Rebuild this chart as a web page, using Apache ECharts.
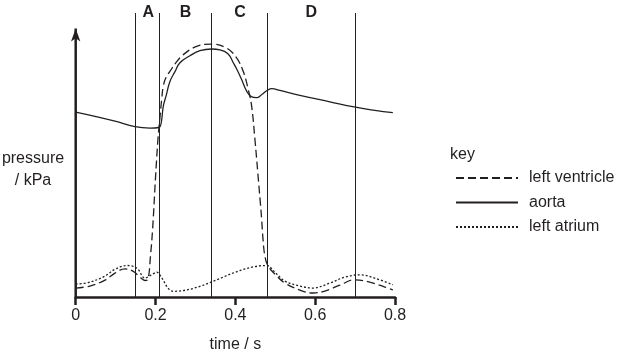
<!DOCTYPE html>
<html><head><meta charset="utf-8">
<script src="https://cdn.jsdelivr.net/npm/echarts@6/dist/echarts.min.js"></script>
<style>html,body{margin:0;padding:0;background:#fff}#c{width:621px;height:358px}</style>
</head><body><div id="c"></div>
<script>
// time (s), pressure (arbitrary kPa scale)
const aorta = [[0,14.33],[0.0483,14.0],[0.0984,13.62],[0.1485,13.19],[0.1861,13.08],[0.2086,13.13],[0.2140,13.45],[0.2194,14.77],[0.2261,15.54],[0.2361,16.69],[0.2487,17.46],[0.2612,18.15],[0.2862,18.69],[0.3113,19.08],[0.3406,19.21],[0.3614,19.15],[0.3814,18.85],[0.3947,18.15],[0.4040,17.62],[0.4157,16.85],[0.4283,15.95],[0.4390,15.54],[0.4533,15.44],[0.4666,15.69],[0.4816,16.04],[0.4916,16.14],[0.5116,16.0],[0.5617,15.62],[0.6369,15.12],[0.6977,14.72],[0.7495,14.46],[0.7946,14.28]];
const ventricle = [[0,0.69],[0.0358,0.85],[0.0734,1.31],[0.0984,1.85],[0.1235,2.18],[0.1435,2.0],[0.1610,1.54],[0.1735,1.28],[0.1811,1.38],[0.1873,3.15],[0.1928,5.31],[0.1998,9.15],[0.2061,12.23],[0.2111,13.92],[0.2154,15.31],[0.2194,16.33],[0.2261,17.0],[0.2361,17.48],[0.2512,18.15],[0.2695,18.77],[0.3030,19.41],[0.3406,19.59],[0.3782,19.28],[0.4032,18.52],[0.4197,17.48],[0.4323,16.08],[0.4408,14.79],[0.4490,12.23],[0.4565,9.54],[0.4628,7.23],[0.4658,6.08],[0.4691,4.54],[0.4741,3.15],[0.4816,2.42],[0.4991,1.77],[0.5241,1.08],[0.5617,0.54],[0.5943,0.31],[0.6244,0.46],[0.6619,0.92],[0.6995,1.33],[0.7370,1.15],[0.7746,0.77],[0.7946,0.56]];
const atrium = [[0,1.0],[0.0358,1.15],[0.0734,1.62],[0.0984,2.15],[0.1285,2.44],[0.1535,2.23],[0.1735,1.46],[0.1886,1.69],[0.2029,1.92],[0.2161,1.46],[0.2312,0.69],[0.2444,0.44],[0.4783,2.44],[0.4991,1.92],[0.5241,1.23],[0.5617,0.85],[0.5943,0.69],[0.6369,1.08],[0.6745,1.54],[0.7120,1.72],[0.7495,1.46],[0.7946,0.95]];
const boundaries = [0.155, 0.209, 0.341, 0.482, 0.698];
const phaseLabels = ['A','B','C','D'];
const xTicks = [0, 0.2, 0.4, 0.6, 0.8];
const yTop = 22;
const yAxisEnd = 20.8;

const ink = '#231f20';
const font = '"Liberation Sans", Arial, sans-serif';
const chart = echarts.init(document.getElementById('c'));
const phasePts = phaseLabels.map((l,i)=>({value:[(boundaries[i]+boundaries[i+1])/2, yTop], label:{formatter:l}}));
chart.setOption({
  animation:false,
  textStyle:{fontFamily:font},
  grid:{left:75.7, right:226, top:13, bottom:59},
  xAxis:{type:'value', min:0, max:0.8, interval:0.2,
    axisLine:{lineStyle:{color:ink,width:2.5}},
    axisTick:{show:true,length:8,lineStyle:{color:ink,width:2.5}},
    axisLabel:{margin:11,fontSize:16,color:ink,fontFamily:font,formatter:v=>xTicks.includes(+v.toFixed(1))?String(+v.toFixed(1)):''},
    splitLine:{show:false},
    name:'time / s', nameLocation:'middle', nameGap:40,
    nameTextStyle:{fontSize:16,color:ink,fontFamily:font}},
  yAxis:{type:'value', min:0, max:yTop, axisLine:{show:false}, axisTick:{show:false}, axisLabel:{show:false}, splitLine:{show:false}},
  legend:{orient:'vertical', left:450, top:165, itemWidth:62, itemHeight:16, itemGap:8.5,
    data:['left ventricle','aorta','left atrium'],
    itemStyle:{opacity:0},
    textStyle:{fontSize:16,color:ink,fontFamily:font,padding:[0,0,0,6]}},
  graphic:[
    {type:'text', left:450, top:147, style:{text:'key', font:'16px '+font, fill:ink}},
    {type:'text', x:33, y:159, style:{text:'pressure', font:'16px '+font, fill:ink, textAlign:'center', textVerticalAlign:'middle'}},
    {type:'text', x:33, y:181, style:{text:'/ kPa', font:'16px '+font, fill:ink, textAlign:'center', textVerticalAlign:'middle'}}
  ],
  series:[
    {name:'left ventricle', type:'line', data:ventricle, smooth:0.4, symbol:'none', itemStyle:{color:ink}, lineStyle:{color:ink,width:1.3,type:[8,4]}, z:3},
    {name:'aorta', type:'line', data:aorta, smooth:0.45, symbol:'none', itemStyle:{color:ink}, lineStyle:{color:ink,width:1.3}, z:3},
    {name:'left atrium', type:'line', data:atrium, smooth:0.35, symbol:'none', itemStyle:{color:ink}, lineStyle:{color:ink,width:1.3,type:[2,2]}, z:3,
      markLine:{silent:true, symbol:'none', label:{show:false}, lineStyle:{color:ink,width:1,type:'solid'},
        data:boundaries.map(b=>({xAxis:b}))}},
    {name:'yaxis', type:'line', data:[[0,0],{value:[0,yAxisEnd],symbol:'arrow',symbolSize:[7,13]}], symbol:'none', showSymbol:true,
      lineStyle:{color:ink,width:2.5}, itemStyle:{color:ink}, z:5, silent:true},
    {name:'phases', type:'scatter', data:phasePts, symbolSize:0, silent:true, itemStyle:{opacity:1},
      label:{show:true, position:'inside', fontSize:16, fontWeight:'bold', color:ink, opacity:1, fontFamily:font}}
  ]
});
</script></body></html>
